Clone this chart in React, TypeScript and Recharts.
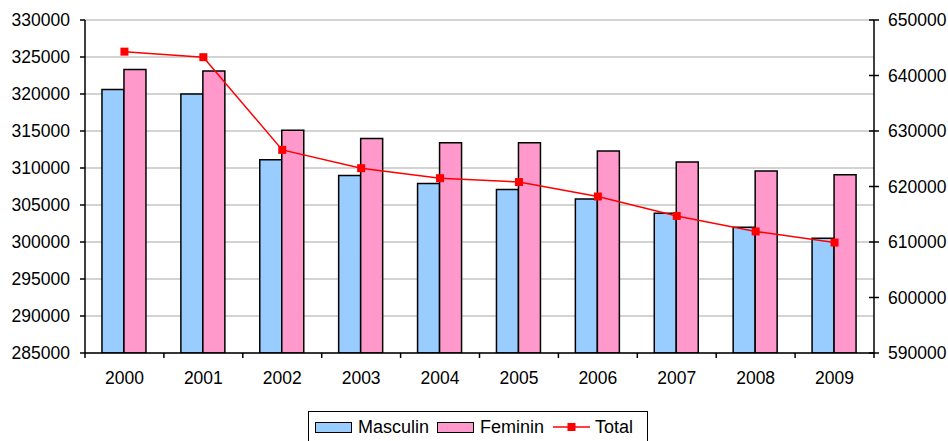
import React from 'react';
import { ComposedChart, Bar, Line, XAxis, YAxis, CartesianGrid, Legend } from 'recharts';

const years = ['2000', '2001', '2002', '2003', '2004', '2005', '2006', '2007', '2008', '2009'];
const masculin = [320600, 320000, 311100, 309000, 307900, 307100, 305800, 303900, 302000, 300500];
const feminin = [323300, 323100, 315100, 314000, 313400, 313400, 312300, 310800, 309600, 309100];
const total = [644300, 643300, 626600, 623300, 621500, 620800, 618200, 614700, 611900, 609900];
const leftTicks = [285000, 290000, 295000, 300000, 305000, 310000, 315000, 320000, 325000, 330000];
const rightTicks = [590000, 600000, 610000, 620000, 630000, 640000, 650000];

const data = years.map((y, i) => ({ year: y, Masculin: masculin[i], Feminin: feminin[i], Total: total[i] }));

const FONT = '"Liberation Sans", Arial, sans-serif';
const FS = 17.5;
const LFS = 18;
const W = 948;
const H = 441;
const LEFT_W = 85;
const RIGHT_W = 74;
const PLOT_W = W - LEFT_W - RIGHT_W;

const XTick = (props: any) => {
  const { x, y, payload, index } = props;
  const bw = PLOT_W / years.length;
  const axisY = y - 19;
  return (
    <g>
      <line x1={x - bw / 2} x2={x - bw / 2} y1={axisY} y2={axisY + 5} stroke="#000" strokeWidth={1.5} />
      {index === years.length - 1 && (
        <line x1={x + bw / 2} x2={x + bw / 2} y1={axisY} y2={axisY + 5} stroke="#000" strokeWidth={1.5} />
      )}
      <text x={x} y={y} dy="0.71em" textAnchor="middle" fill="#000" fontFamily={FONT} fontSize={FS}>
        {payload.value}
      </text>
    </g>
  );
};

const RTick = (props: any) => {
  const { x, y, payload } = props;
  return (
    <g>
      <line x1={x - 19} x2={x - 9} y1={y} y2={y} stroke="#000" strokeWidth={1.5} />
      <text x={x} y={y} dy="0.355em" textAnchor="start" fill="#000" fontFamily={FONT} fontSize={FS}>
        {payload.value}
      </text>
    </g>
  );
};

const SquareDot = (props: any) => {
  const { cx, cy } = props;
  if (cx == null || cy == null) return null;
  return <rect x={cx - 4} y={cy - 4} width={8} height={8} fill="#FF0000" />;
};

const LegendBox = () => (
  <div
    style={{
      width: 340,
      height: 32,
      border: '1px solid #000',
      boxSizing: 'border-box',
      display: 'flex',
      alignItems: 'center',
      fontFamily: FONT,
      fontSize: LFS,
      color: '#000',
      background: '#fff',
      whiteSpace: 'nowrap',
    }}
  >
    <span style={{ display: 'inline-block', width: 37, height: 11, boxSizing: 'border-box', border: '1.5px solid #000', background: '#99CCFF', marginLeft: 6 }} />
    <span style={{ marginLeft: 6 }}>Masculin</span>
    <span style={{ display: 'inline-block', width: 37, height: 11, boxSizing: 'border-box', border: '1.5px solid #000', background: '#FF99CC', marginLeft: 8 }} />
    <span style={{ marginLeft: 6 }}>Feminin</span>
    <svg width={37} height={12} style={{ marginLeft: 9 }}>
      <line x1={0} x2={37} y1={6} y2={6} stroke="#FF0000" strokeWidth={1.5} />
      <rect x={14.5} y={2} width={8} height={8} fill="#FF0000" />
    </svg>
    <span style={{ marginLeft: 5 }}>Total</span>
  </div>
);

export default function App() {
  return (
    <div style={{ position: 'absolute', left: 0, top: 0, width: W, height: H, background: '#fff', overflow: 'hidden' }}>
      <ComposedChart
        width={W}
        height={H}
        data={data}
        margin={{ top: 20, right: 0, left: 0, bottom: 0 }}
        barCategoryGap="21.5%"
        barGap={0}
      >
        <CartesianGrid yAxisId="left" horizontal vertical={false} stroke="#c4c4c4" strokeWidth={1.5} />
        <XAxis
          dataKey="year"
          height={56}
          tickLine={false}
          tickSize={5}
          tickMargin={14}
          axisLine={{ stroke: '#000', strokeWidth: 1.5 }}
          tick={<XTick />}
          interval={0}
        />
        <YAxis
          yAxisId="left"
          orientation="left"
          width={LEFT_W}
          domain={[285000, 330000]}
          ticks={leftTicks}
          allowDataOverflow
          tickSize={5}
          tickMargin={10}
          axisLine={{ stroke: '#000', strokeWidth: 1.5 }}
          tickLine={{ stroke: '#000', strokeWidth: 1.5 }}
          tick={{ fill: '#000', fontFamily: FONT, fontSize: FS }}
        />
        <YAxis
          yAxisId="right"
          orientation="right"
          width={RIGHT_W}
          domain={[590000, 650000]}
          ticks={rightTicks}
          allowDataOverflow
          tickSize={5}
          tickMargin={9}
          axisLine={{ stroke: '#000', strokeWidth: 1.5 }}
          tickLine={false}
          tick={<RTick />}
        />
        <Bar yAxisId="left" dataKey="Masculin" fill="#99CCFF" stroke="#000" strokeWidth={1.5} isAnimationActive={false} />
        <Bar yAxisId="left" dataKey="Feminin" fill="#FF99CC" stroke="#000" strokeWidth={1.5} isAnimationActive={false} />
        <Line
          yAxisId="right"
          dataKey="Total"
          type="linear"
          stroke="#FF0000"
          strokeWidth={1.5}
          dot={<SquareDot />}
          activeDot={false}
          isAnimationActive={false}
        />
        <Legend
          content={<LegendBox />}
          wrapperStyle={{ position: 'absolute', left: 308, top: 411, bottom: 'auto', width: 340, height: 32 }}
        />
      </ComposedChart>
    </div>
  );
}
